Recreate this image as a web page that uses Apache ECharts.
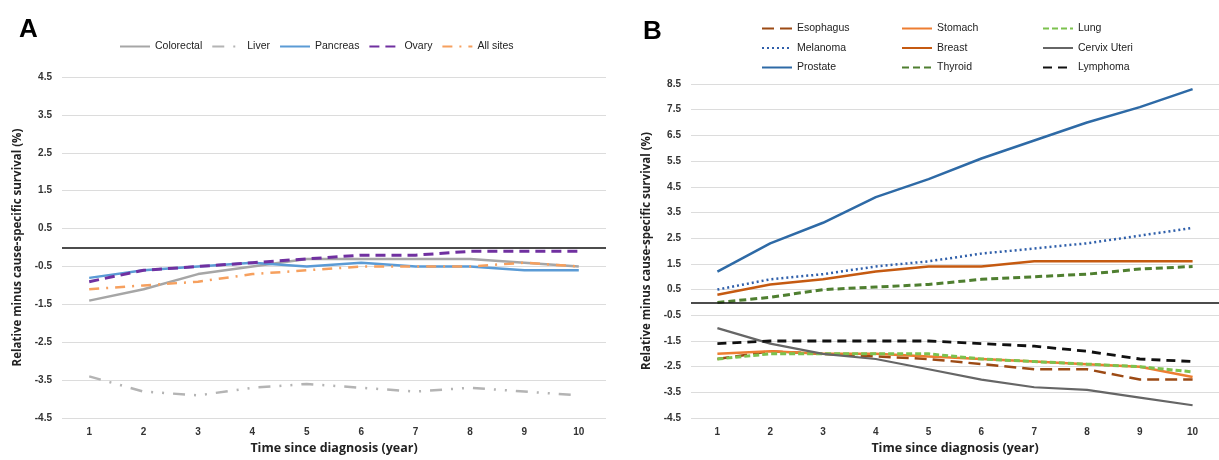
<!DOCTYPE html>
<html><head><meta charset="utf-8">
<script src="https://cdn.jsdelivr.net/npm/echarts@6/dist/echarts.min.js"></script>
<style>html,body{margin:0;padding:0;background:#fff}#c{width:1219px;height:460px}</style>
</head><body><div id="c"></div>
<script>
var years = ['1','2','3','4','5','6','7','8','9','10'];
// Panel A
var colorectal = [-1.4,-1.1,-0.7,-0.5,-0.3,-0.3,-0.3,-0.3,-0.4,-0.5];
var liver      = [-3.4,-3.8,-3.9,-3.7,-3.6,-3.7,-3.8,-3.7,-3.8,-3.9];
var pancreas   = [-0.8,-0.6,-0.5,-0.4,-0.5,-0.4,-0.5,-0.5,-0.6,-0.6];
var ovary      = [-0.9,-0.6,-0.5,-0.4,-0.3,-0.2,-0.2,-0.1,-0.1,-0.1];
var allSites   = [-1.1,-1.0,-0.9,-0.7,-0.6,-0.5,-0.5,-0.5,-0.4,-0.5];
// Panel B
var esophagus  = [-2.2,-1.9,-2.0,-2.1,-2.2,-2.4,-2.6,-2.6,-3.0,-3.0];
var stomach    = [-2.0,-1.9,-2.0,-2.0,-2.1,-2.2,-2.3,-2.4,-2.5,-2.9];
var lung       = [-2.2,-2.0,-2.0,-2.0,-2.0,-2.2,-2.3,-2.4,-2.5,-2.7];
var melanoma   = [0.5,0.9,1.1,1.4,1.6,1.9,2.1,2.3,2.6,2.9];
var breast     = [0.3,0.7,0.9,1.2,1.4,1.4,1.6,1.6,1.6,1.6];
var cervix     = [-1.0,-1.6,-2.0,-2.2,-2.6,-3.0,-3.3,-3.4,-3.7,-4.0];
var prostate   = [1.2,2.3,3.1,4.1,4.8,5.6,6.3,7.0,7.6,8.3];
var thyroid    = [0.0,0.2,0.5,0.6,0.7,0.9,1.0,1.1,1.3,1.4];
var lymphoma   = [-1.6,-1.5,-1.5,-1.5,-1.5,-1.6,-1.7,-1.9,-2.2,-2.3];

var axisFont = 'Open Sans';
var legendFont = '"Liberation Sans Narrow", "Arial Narrow", sans-serif';

function yAx(idx, min, max) {
  return {
    type: 'value', gridIndex: idx, min: min, max: max, interval: 1,
    name: 'Relative minus cause-specific survival (%)', nameLocation: 'middle', nameGap: 38,
    nameTextStyle: {fontFamily: axisFont, fontWeight: 'bold', fontSize: 11.5, color: '#222'},
    axisLabel: {fontFamily: legendFont, fontSize: 10, color: '#333', fontWeight: 'bold', margin: 10,
      formatter: function (v) { return (Math.round(v * 10) / 10).toFixed(1); }},
    axisLine: {show: false}, axisTick: {show: false},
    splitLine: {lineStyle: {color: '#dcdcdc', width: 1}}
  };
}
function xAx(idx) {
  return {
    type: 'category', gridIndex: idx, data: years, boundaryGap: true,
    name: 'Time since diagnosis (year)', nameLocation: 'middle', nameGap: 22,
    nameTextStyle: {fontFamily: axisFont, fontWeight: 'bold', fontSize: 12.5, color: '#222'},
    axisLabel: {fontFamily: legendFont, fontSize: 10, color: '#333', fontWeight: 'bold', margin: 9},
    axisLine: {show: false}, axisTick: {show: false}, splitLine: {show: false}
  };
}
function ln(name, data, idx, color, width, type, extra) {
  var s = {
    name: name, type: 'line', data: data, xAxisIndex: idx, yAxisIndex: idx,
    showSymbol: false, symbol: 'none', smooth: false, animation: false,
    lineStyle: {color: color, width: width, type: type}, itemStyle: {color: color}
  };
  if (extra) for (var k in extra) s[k] = extra[k];
  return s;
}
var zeroLine = {silent: true, symbol: ['none','none'], label: {show: false},
  lineStyle: {color: '#111', width: 1.6, type: 'solid'}, data: [{yAxis: 0}]};

var legendText = {fontFamily: legendFont, fontSize: 10.5, color: '#222'};
var legItem = {opacity: 0};
var option = {
  animation: false,
  backgroundColor: '#fff',
  title: [
    {text: 'A', left: 14, top: 12, textStyle: {fontFamily: 'Liberation Sans', fontWeight: 'bold', fontSize: 26, color: '#000'}},
    {text: 'B', left: 638, top: 14, textStyle: {fontFamily: 'Liberation Sans', fontWeight: 'bold', fontSize: 26, color: '#000'}}
  ],
  legend: [
    {data: ['Colorectal','Liver','Pancreas','Ovary','All sites'], left: 114, top: 36, itemWidth: 30, itemHeight: 10, itemGap: 9, itemStyle: legItem, textStyle: legendText},
    {data: ['Esophagus','Melanoma','Prostate'], orient: 'vertical', left: 756, top: 18, itemWidth: 30, itemHeight: 10, itemGap: 8.5, itemStyle: legItem, textStyle: legendText},
    {data: ['Stomach','Breast','Thyroid'], orient: 'vertical', left: 896, top: 18, itemWidth: 30, itemHeight: 10, itemGap: 8.5, itemStyle: legItem, textStyle: legendText},
    {data: ['Lung','Cervix Uteri','Lymphoma'], orient: 'vertical', left: 1037, top: 18, itemWidth: 30, itemHeight: 10, itemGap: 8.5, itemStyle: legItem, textStyle: legendText}
  ],
  grid: [
    {left: 62, top: 77, width: 544, bottom: 38},
    {left: 691, top: 84, width: 540, bottom: 38}
  ],
  xAxis: [xAx(0), xAx(1)],
  yAxis: [yAx(0, -4.5, 4.5), yAx(1, -4.5, 8.5)],
  series: [
    ln('Colorectal', colorectal, 0, '#a6a6a6', 2.5, 'solid', {markLine: zeroLine}),
    ln('Liver', liver, 0, '#b4b4b4', 2.5, [12, 9, 2, 9, 2, 9]),
    ln('Pancreas', pancreas, 0, '#5b9bd5', 2.5, 'solid'),
    ln('Ovary', ovary, 0, '#7030a0', 3, [10, 6]),
    ln('All sites', allSites, 0, '#f6a05e', 2.5, [10, 7, 2, 7]),
    ln('Esophagus', esophagus, 1, '#9c4a14', 2.5, [12, 6], {markLine: zeroLine}),
    ln('Stomach', stomach, 1, '#ed7d31', 2.5, 'solid'),
    ln('Lung', lung, 1, '#7cc24e', 3, [6, 3]),
    ln('Melanoma', melanoma, 1, '#2f5faa', 2.5, [2, 3]),
    ln('Breast', breast, 1, '#c55a11', 2.5, 'solid'),
    ln('Cervix Uteri', cervix, 1, '#666666', 2.2, 'solid'),
    ln('Prostate', prostate, 1, '#2e6aa6', 2.5, 'solid'),
    ln('Thyroid', thyroid, 1, '#4f7f30', 3, [7, 4]),
    ln('Lymphoma', lymphoma, 1, '#111111', 2.8, [9, 6])
  ]
};
var chart = echarts.init(document.getElementById('c'), null, {renderer: 'canvas'});
chart.setOption(option);
</script>
</body></html>
